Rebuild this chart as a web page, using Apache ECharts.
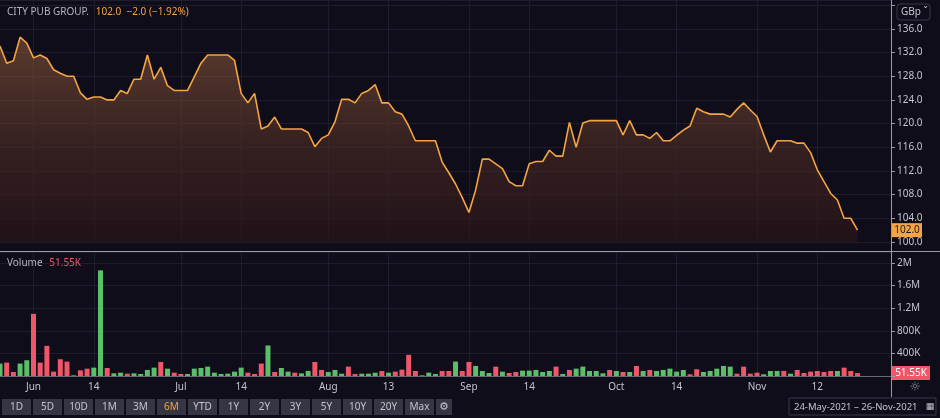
<!DOCTYPE html>
<html><head><meta charset="utf-8">
<script src="https://cdn.jsdelivr.net/npm/echarts@6/dist/echarts.min.js"></script>
<style>html,body{margin:0;padding:0;background:#0e0d19;}#c{width:940px;height:418px;}</style>
</head><body><div id="c"></div>
<script>
const prices=[133.1,130.2,130.6,134.6,133.6,131.1,131.6,131.0,129.1,128.5,128.0,128.0,125.2,124.1,124.5,124.5,124.0,124.0,125.6,125.1,
127.5,127.5,131.6,127.5,129.5,126.4,125.6,125.6,125.6,127.9,130.2,131.6,131.6,131.6,131.6,130.7,125.1,123.5,125.1,119.1,
119.6,121.1,119.1,119.1,119.1,119.1,118.5,116.1,117.5,118.1,120.3,124.1,124.1,123.5,125.1,125.6,126.6,123.5,123.5,122.0,
121.6,119.6,117.1,117.1,117.1,117.1,113.5,111.7,109.8,107.5,105.0,108.8,114.0,114.0,113.2,112.4,110.2,109.5,109.5,113.2,
113.6,113.6,115.5,114.5,114.5,120.2,116.0,120.1,120.5,120.5,120.5,120.5,120.5,118.1,120.5,118.1,118.1,117.5,118.5,117.1,
117.1,118.0,118.9,119.6,122.6,122.0,121.6,121.6,121.6,121.1,122.4,123.5,122.3,121.2,118.1,115.2,117.1,117.1,117.1,116.7,
116.7,115.1,112.2,110.2,108.2,107.1,104.0,104.0,102.0];
const volumes=[220,237,71,220,279,1100,237,534,77,297,255,12,100,130,148,1870,142,47,59,41,
47,36,107,148,249,130,59,36,36,130,142,166,59,36,41,77,148,59,36,220,
540,71,142,77,59,47,89,249,107,71,107,41,166,36,41,41,59,89,59,77,
113,374,89,12,59,36,89,89,255,89,249,178,89,53,166,77,53,71,95,95,
107,71,89,166,36,107,130,166,89,89,47,107,89,71,71,178,89,107,89,107,
130,77,107,30,119,71,89,130,178,166,41,166,41,59,30,89,89,89,41,107,
53,77,89,71,89,89,148,89,51.55].map(v=>v*1000);
const volDir="gruggrrrrrrgrrggrggrggggrgrrgggggggggrrrgrggrggrrgggrrgggrgrrrrgggrrgrrgggrgrrgggggrgrgggggrgrgrgrgggggrrgggggrrrrgggrgrrrrrrgr";
const tickLabels={5:"Jun",14:"14",27:"Jul",36:"14",49:"Aug",58:"13",70:"Sep",79:"14",92:"Oct",101:"14",113:"Nov",122:"12"};
const buttons=["1D","5D","10D","1M","3M","6M","YTD","1Y","2Y","3Y","5Y","10Y","20Y","Max"];
const N=134;
const cats=Array.from({length:N},(_,i)=>String(i));
const isTick=(i)=>tickLabels[i]!==undefined;
const RED='#f0566a',GREEN='#5bbf6a',ORANGE='#f5a442',GRID='#1e1d2b',TXT='#c4c4cc';
const last=prices[prices.length-1],prev=prices[prices.length-2];
const chg=last-prev;
const lastVol=volumes[volumes.length-1];
const chart=echarts.init(document.getElementById('c'));
const g=[];
let bx=2;
buttons.forEach((b)=>{
 g.push({type:'rect',shape:{x:bx,y:399,width:29,height:16},style:{fill:'#363544'}});
 g.push({type:'text',x:bx+14.5,y:407,style:{text:b,fill:b==='6M'?ORANGE:TXT,font:'10px "Noto Sans"',align:'center',verticalAlign:'middle'}});
 bx+=31;});
g.push({type:'rect',shape:{x:bx,y:399,width:16,height:16},style:{fill:'#363544'}});
g.push({type:'text',x:bx+8,y:407,style:{text:'⚙',fill:TXT,font:'11px "DejaVu Sans"',align:'center',verticalAlign:'middle'}});
g.push({type:'rect',shape:{x:789,y:398,width:147,height:17},style:{fill:'#0e0d19',stroke:'#3a3948',lineWidth:1}});
g.push({type:'text',x:794,y:407,style:{text:'24-May-2021 – 26-Nov-2021',fill:TXT,font:'9.5px "Noto Sans"',verticalAlign:'middle'}});
g.push({type:'text',x:930,y:407,style:{text:'▦',fill:TXT,font:'9px "DejaVu Sans"',align:'center',verticalAlign:'middle'}});
g.push({type:'line',shape:{x1:891.5,y1:0,x2:891.5,y2:397},style:{stroke:'#9a9aa6',lineWidth:1}});
g.push({type:'line',shape:{x1:0,y1:251.5,x2:940,y2:251.5},style:{stroke:'#9a9aa6',lineWidth:1}});
g.push({type:'line',shape:{x1:0,y1:376.5,x2:891,y2:376.5},style:{stroke:'#6a6a76',lineWidth:1}});
g.push({type:'rect',shape:{x:897,y:4,width:33,height:16,r:3},style:{fill:'#0e0d19',stroke:'#3a3948'}});
g.push({type:'text',x:901,y:12,style:{text:'GBp ˇ',fill:TXT,font:'10px "Noto Sans"',verticalAlign:'middle'}});
g.push({type:'text',x:915,y:388,style:{text:'☼',fill:'#8a8a96',font:'13px "DejaVu Sans"',align:'center',verticalAlign:'middle'}});
g.push({type:'text',x:7,y:12,style:{rich:{a:{fill:'#b4b4bc',font:'10px "Noto Sans"'},b:{fill:ORANGE,font:'10px "Noto Sans"'}},
 text:'{a|CITY PUB GROUP.}  {b|'+last.toFixed(1)+'  −'+Math.abs(chg).toFixed(1)+' (−'+(Math.abs(chg)/prev*100).toFixed(2)+'%)}',verticalAlign:'middle'}});
g.push({type:'text',x:7,y:263,style:{rich:{a:{fill:'#b4b4bc',font:'10px "Noto Sans"'},b:{fill:RED,font:'10px "Noto Sans"'}},
 text:'{a|Volume}  {b|'+(lastVol/1000).toFixed(2)+'K}',verticalAlign:'middle'}});
const vfmt=v=>v===0?'':(v>=1e6?(v/1e6)+'M':(v/1e3)+'K');
chart.setOption({
 backgroundColor:'#0e0d19',animation:false,
 grid:[{left:0,top:0,width:891,height:242},{left:0,top:252,width:891,height:124}],
 xAxis:[0,1].map(k=>({type:'category',gridIndex:k,data:cats,boundaryGap:false,
  axisLine:{show:false},axisTick:{show:false},
  axisLabel:{show:k===1,interval:(i)=>isTick(i),formatter:(v,i)=>tickLabels[i]||'',color:TXT,fontSize:10,fontFamily:'Noto Sans',margin:6},
  splitLine:{show:true,interval:(i)=>isTick(i),lineStyle:{color:GRID}}})),
 yAxis:[
  {type:'value',gridIndex:0,position:'right',min:100,max:100+242/5.92,interval:4,
   axisLine:{show:false},axisTick:{show:true,length:4,lineStyle:{color:'#9a9aa6'}},
   axisLabel:{color:TXT,fontSize:10,fontFamily:'Noto Sans',margin:6,showMaxLabel:false,formatter:v=>(v<=136.01&&Math.abs(v%4)<1e-6)?v.toFixed(1):''},
   splitLine:{lineStyle:{color:GRID}}},
  {type:'value',gridIndex:1,position:'right',min:0,max:2195000,interval:400000,
   axisLine:{show:false},axisTick:{show:true,length:4,lineStyle:{color:'#9a9aa6'}},
   axisLabel:{color:TXT,fontSize:10,fontFamily:'Noto Sans',margin:6,showMaxLabel:false,formatter:v=>(v%400000===0)?vfmt(v):''},
   splitLine:{lineStyle:{color:GRID}}}
 ],
 series:[
  {type:'line',xAxisIndex:0,yAxisIndex:0,data:prices,symbol:'none',
   lineStyle:{color:ORANGE,width:1.6},
   areaStyle:{origin:'start',color:new echarts.graphic.LinearGradient(0,0,0,1,[{offset:0,color:'rgba(140,88,60,0.85)'},{offset:0.55,color:'rgba(74,42,36,0.9)'},{offset:1,color:'rgba(42,20,24,0.95)'}])}},
  {type:'bar',xAxisIndex:1,yAxisIndex:1,barWidth:5,
   data:volumes.map((v,i)=>({value:v,itemStyle:{color:volDir[i]==='g'?GREEN:RED}}))}
 ],
 graphic:g
});
const py=chart.convertToPixel({yAxisIndex:0},last);
const vy=chart.convertToPixel({yAxisIndex:1},lastVol);
g.push({type:'rect',shape:{x:892,y:py-7,width:30,height:14},style:{fill:ORANGE}});
g.push({type:'text',x:907,y:py,style:{text:last.toFixed(1),fill:'#1a1a1a',font:'10px "Noto Sans"',align:'center',verticalAlign:'middle'}});
g.push({type:'rect',shape:{x:892,y:vy-7,width:38,height:14},style:{fill:RED}});
g.push({type:'text',x:911,y:vy,style:{text:(lastVol/1000).toFixed(2)+'K',fill:'#fff',font:'10px "Noto Sans"',align:'center',verticalAlign:'middle'}});
chart.setOption({graphic:g},{replaceMerge:['graphic']});
</script></body></html>
